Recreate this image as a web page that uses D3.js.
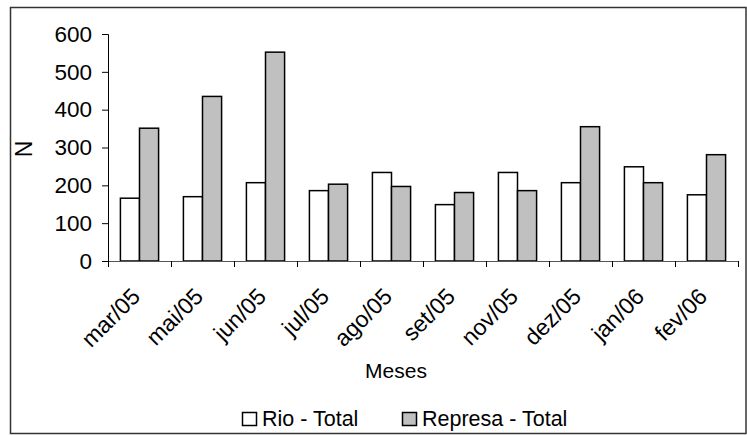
<!DOCTYPE html>
<html>
<head>
<meta charset="utf-8">
<script src="https://cdn.jsdelivr.net/npm/d3@7"></script>
<style>
  html, body { margin: 0; padding: 0; background: #fff; }
  svg { display: block; }
  text { font-family: "Liberation Sans", Arial, sans-serif; fill: #000; }
</style>
</head>
<body>
<svg id="chart" width="747" height="435"></svg>
<script>
// Monthly totals (N) for the river and the reservoir
const months = ["mar/05", "mai/05", "jun/05", "jul/05", "ago/05", "set/05", "nov/05", "dez/05", "jan/06", "fev/06"];
const rioTotal = [166, 170, 207, 186, 234, 149, 234, 207, 249, 175];
const represaTotal = [351, 435, 552, 203, 197, 181, 186, 355, 207, 281];
const seriesNames = ["Rio - Total", "Represa - Total"];
const seriesFills = ["#ffffff", "#c0c0c0"];
const yTicks = [0, 100, 200, 300, 400, 500, 600];

const svg = d3.select("#chart");
const plot = { left: 108, right: 738, top: 34, bottom: 261 };

// outer chart frame
svg.append("rect")
  .attr("x", 10.5).attr("y", 7.5)
  .attr("width", 735.5).attr("height", 426)
  .attr("fill", "none").attr("stroke", "#333").attr("stroke-width", 1.5);

const x = d3.scaleBand().domain(months).range([plot.left, plot.right]).padding(0);
const y = d3.scaleLinear().domain([0, 600]).range([plot.bottom, plot.top]);

// two bars per month, gap between groups 1.3 bar widths
const barW = x.bandwidth() / 3.3;
const xs = d3.scaleBand().domain(seriesNames)
  .range([(x.bandwidth() - 2 * barW) / 2, (x.bandwidth() + 2 * barW) / 2]).padding(0);

const rows = months.map((m, i) => ({ month: m, values: [rioTotal[i], represaTotal[i]] }));

const groups = svg.append("g").selectAll("g").data(rows).join("g")
  .attr("transform", d => `translate(${x(d.month)},0)`);

groups.selectAll("rect")
  .data(d => d.values.map((v, k) => ({ name: seriesNames[k], v, k })))
  .join("rect")
  .attr("x", d => xs(d.name))
  .attr("y", d => y(d.v))
  .attr("width", xs.bandwidth())
  .attr("height", d => y(0) - y(d.v))
  .attr("fill", d => seriesFills[d.k])
  .attr("stroke", "#000")
  .attr("stroke-width", 1.5);

// value axis
const yAxis = svg.append("g")
  .attr("transform", `translate(${plot.left},0)`)
  .call(d3.axisLeft(y).tickValues(yTicks).tickSize(6).tickPadding(10).tickFormat(d3.format("d")));
yAxis.select(".domain").attr("stroke", "#000");
yAxis.selectAll(".tick line").attr("stroke", "#000");
yAxis.selectAll(".tick text").style("font-size", "22.5px").attr("fill", "#000");

// category axis: tick marks on the boundaries between months
const xb = d3.scaleLinear().domain([0, months.length]).range([plot.left, plot.right]);
const xAxis = svg.append("g")
  .attr("transform", `translate(0,${plot.bottom})`)
  .call(d3.axisBottom(xb).ticks(months.length).tickSize(6).tickFormat(""));
xAxis.select(".domain").attr("stroke", "#555");
xAxis.selectAll(".tick line").attr("stroke", "#000");

// rotated month labels
svg.append("g").selectAll("text").data(months).join("text")
  .attr("text-anchor", "end")
  .attr("transform", d => `translate(${x(d) + x.bandwidth() / 2 + 2},${plot.bottom + 37}) rotate(-45)`)
  .style("font-size", "23px")
  .text(d => d);

// axis titles
svg.append("text")
  .attr("transform", `translate(32,149) rotate(-90)`)
  .attr("text-anchor", "middle")
  .style("font-size", "23px")
  .text("N");

svg.append("text")
  .attr("x", 396).attr("y", 378)
  .attr("text-anchor", "middle")
  .style("font-size", "21px")
  .text("Meses");

// legend
const legendX = [242, 402];
const legend = svg.append("g").selectAll("g").data(seriesNames).join("g")
  .attr("transform", (d, i) => `translate(${legendX[i]},412)`);
legend.append("rect")
  .attr("x", 0.5).attr("y", 0.5).attr("width", 14).attr("height", 13)
  .attr("fill", (d, i) => seriesFills[i])
  .attr("stroke", "#000").attr("stroke-width", 1.5);
legend.append("text")
  .attr("x", 20).attr("y", 14)
  .style("font-size", "21.5px")
  .text(d => d);
</script>
</body>
</html>
